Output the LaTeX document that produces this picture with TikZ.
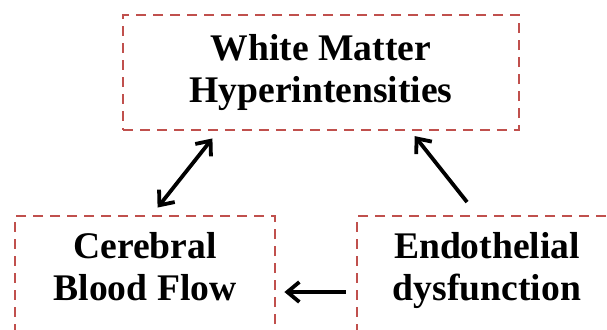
\documentclass[tikz,border=0pt]{standalone}
\usepackage{fontspec}
\setmainfont{Liberation Serif}
\usepackage{xcolor}
\usetikzlibrary{arrows.meta,positioning}
\definecolor{cBox}{HTML}{C0504D}
\definecolor{cLink}{HTML}{000000}
\tikzset{
  box/.style  = {rectangle, draw=cBox, line width=1.4pt, dash pattern=on 5pt off 3.5pt,
                 align=center, inner sep=4pt,
                 font=\fontsize{18.8}{21}\selectfont\bfseries},
  lk/.style   = {-{Straight Barb[length=6pt,width=10pt]}, draw=cLink, line width=1.9pt},
  lkb/.style  = {{Straight Barb[length=6pt,width=10pt]}-{Straight Barb[length=6pt,width=10pt]},
                 draw=cLink, line width=1.9pt},
}

\begin{document}
\begin{tikzpicture}[x=0.5pt, y=0.5pt]
  \useasboundingbox (0,0) rectangle (607,329);
  \clip (0,0) rectangle (607,329);
  \node[box, minimum width=198pt, minimum height=57.5pt] (wmh) at (321,256.5) {White Matter\\Hyperintensities};
  \node[box, minimum width=130pt, minimum height=60pt, text depth=10pt] (cbf) at (145,53) {Cerebral\\Blood Flow};
  \node[box, minimum width=130pt, minimum height=60pt, text depth=10pt] (end) at (487,53) {Endothelial\\dysfunction};

  \draw[lkb, shorten <=4.5pt, shorten >=4.5pt] ([xshift=3.5pt]cbf.north) -- ([xshift=-51.5pt]wmh.south);
  \draw[lk, shorten <=8pt, shorten >=3pt] ([xshift=-5pt]end.north) -- ([xshift=45pt]wmh.south);
  \draw[lk, shorten <=5pt, shorten >=4pt] ([yshift=-8pt]end.west) -- ([yshift=-8pt]cbf.east);
\end{tikzpicture}
\end{document}
